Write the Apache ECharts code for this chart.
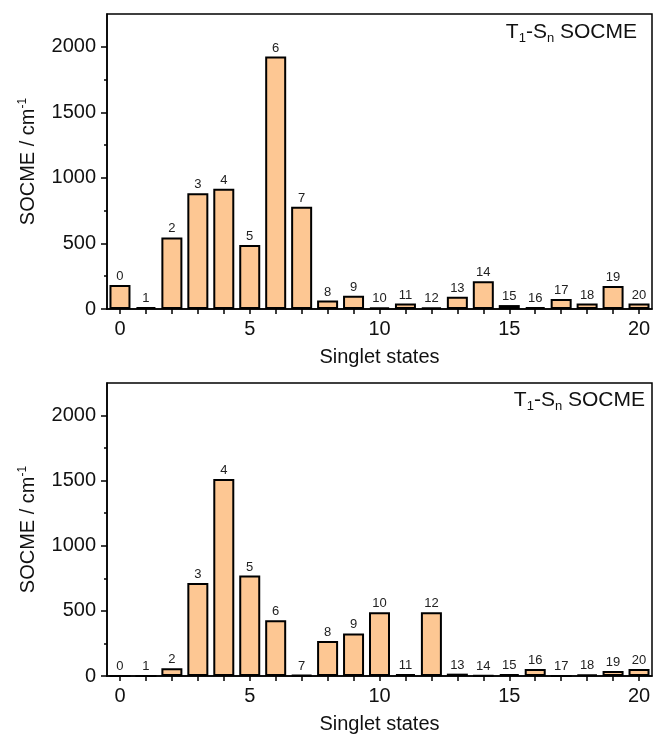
<!DOCTYPE html>
<html>
<head>
<meta charset="utf-8">
<script src="https://cdn.jsdelivr.net/npm/echarts@6/dist/echarts.min.js"></script>
<style>html,body{margin:0;padding:0;background:#fff;}#c{width:654px;height:736px;}</style>
</head>
<body>
<div id="c"></div>
<script>
const states = ['0','1','2','3','4','5','6','7','8','9','10','11','12','13','14','15','16','17','18','19','20'];
const topValues = [183,15,546,882,917,488,1926,780,64,102,13,41,13,94,211,30,15,76,41,175,41];
const bottomValues = [0,0,59,715,1512,771,429,8,268,327,490,15,490,18,3,15,54,0,10,38,54];
const xTickLabels = ['0','5','10','15','20'];
const yTickLabels = [0,500,1000,1500,2000];
const yMinorTicks = [250,750,1250,1750];
const xTitle = 'Singlet states';
const yTitle = 'SOCME / cm{sup|-1}';
const boxText = 'T{sub|1}-S{sub|n} SOCME';

const chart = echarts.init(document.getElementById('c'), null, {renderer:'canvas'});
const FONT = 'Liberation Sans, Arial, sans-serif';
const FS = 20;
const grids = [
  {left:107, right:2, top:14, height:295},
  {left:107, right:2, top:383, height:293}
];
const xAxes = [], yAxes = [], series = [], grid = [];
[topValues, bottomValues].forEach((vals, g) => {
  grid.push(Object.assign({show:true, borderColor:'#000', borderWidth:1.5, backgroundColor:'transparent'}, grids[g]));
  xAxes.push({
    type:'category', gridIndex:g, data: states, boundaryGap:true,
    name: xTitle, nameLocation:'middle', nameGap:38,
    nameTextStyle:{fontFamily:FONT, fontSize:FS, color:'#111'},
    axisLine:{show:true, onZero:false, lineStyle:{color:'#000', width:1.5}},
    axisTick:{show:true, length:5, alignWithLabel:true, interval:0, lineStyle:{color:'#000', width:1.5}},
    axisLabel:{show:true, interval:(i) => xTickLabels.indexOf(states[i]) >= 0, fontFamily:FONT, fontSize:FS, color:'#111', margin:10},
    splitLine:{show:false}
  });
  yAxes.push({
    type:'value', gridIndex:g, min:0, max:2250, position:'left',
    name: yTitle, nameLocation:'middle', nameGap:68, nameRotate:90,
    nameTextStyle:{fontFamily:FONT, fontSize:FS, color:'#111', rich:{sup:{fontSize:12, verticalAlign:'top', padding:[0,0,10,0], fontFamily:FONT, color:'#111'}}},
    axisLine:{show:true, onZero:false, lineStyle:{color:'#000', width:1.5}},
    axisTick:{show:false},
    axisLabel:{show:true, customValues: yTickLabels, formatter: v => String(v), fontFamily:FONT, fontSize:FS, color:'#111', margin:11},
    splitLine:{show:false}
  });
  yAxes.push({
    type:'value', gridIndex:g, min:0, max:2250, position:'left', offset:0,
    axisLine:{show:false, onZero:false},
    axisTick:{show:true, length:3, customValues: yMinorTicks, lineStyle:{color:'#000', width:1.5}},
    axisLabel:{show:false},
    splitLine:{show:false}
  });
  yAxes.push({
    type:'value', gridIndex:g, min:0, max:2250, position:'left', offset:0,
    axisLine:{show:false, onZero:false},
    axisTick:{show:true, length:6, customValues: yTickLabels, lineStyle:{color:'#000', width:1.5}},
    axisLabel:{show:false},
    splitLine:{show:false}
  });
  series.push({
    type:'bar', xAxisIndex:g, yAxisIndex:g*3,
    data: vals,
    barWidth:21,
    itemStyle:{color:'#FDC793', borderColor:'#000', borderWidth:2},
    label:{show:true, position:'top', distance:2, fontFamily:FONT, fontSize:13, color:'#222',
      formatter: p => p.name}
  });
});

const subStyle = {fontSize:13, verticalAlign:'bottom', padding:[12,0,0,0], fontFamily:FONT, color:'#111'};
chart.setOption({
  animation:false,
  backgroundColor:'#fff',
  grid: grid,
  xAxis: xAxes,
  yAxis: yAxes,
  series: series,
  graphic: [
    {type:'text', right:17, top:22, style:{text:boxText, fontFamily:FONT, fontSize:21, fill:'#111', rich:{sub:subStyle}}},
    {type:'text', right:9, top:390, style:{text:boxText, fontFamily:FONT, fontSize:21, fill:'#111', rich:{sub:subStyle}}}
  ]
});
</script>
</body>
</html>
